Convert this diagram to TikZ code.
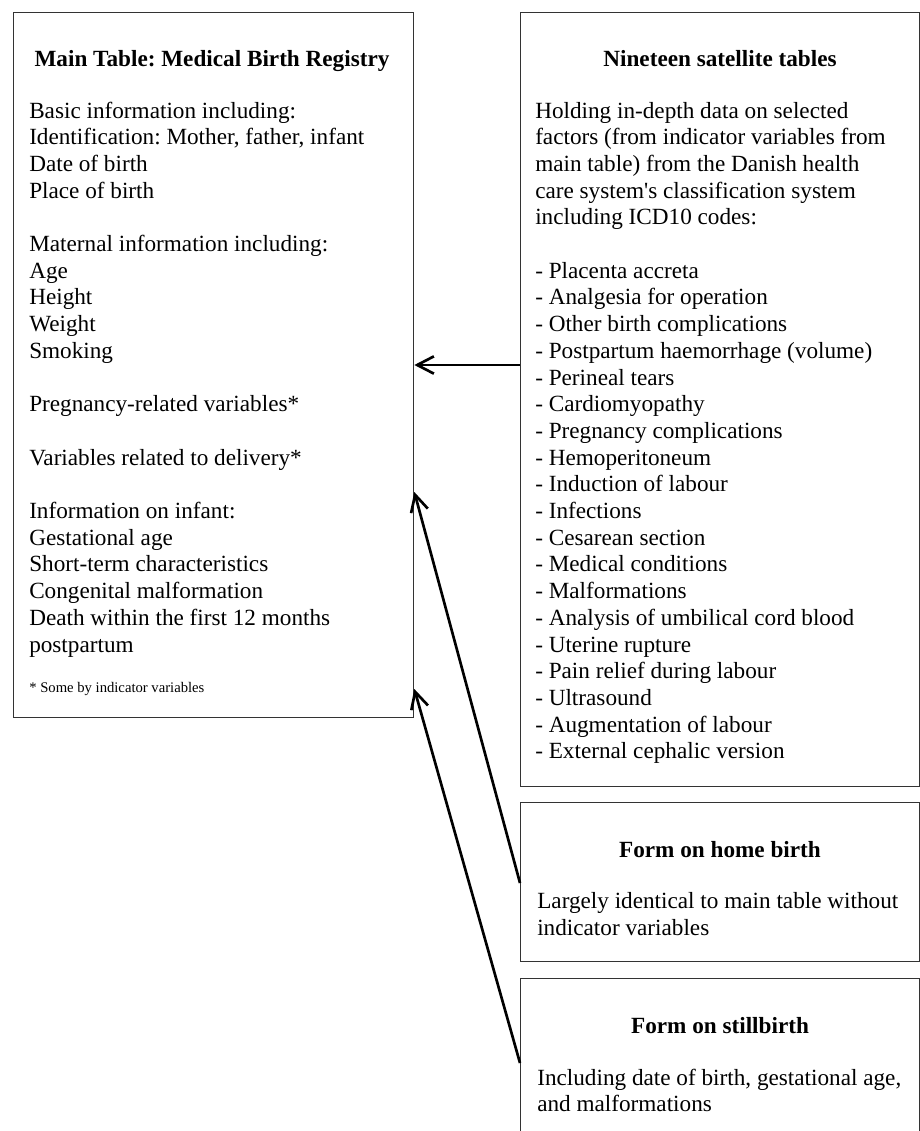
\documentclass[tikz,border=0pt]{standalone}
\usepackage{fontspec}
\setmainfont{Liberation Serif}
\usetikzlibrary{arrows.meta}
\frenchspacing
\begin{document}
\begin{tikzpicture}[x=0.75pt,y=-0.75pt,
  box/.style={draw=black!80, line width=1pt, inner sep=0pt, anchor=north west},
  txt/.style={anchor=base west, inner sep=0pt, font=\fontsize{17.4}{20}\selectfont},
  ttl/.style={anchor=base, inner sep=0pt, font=\fontsize{17.4}{20}\selectfont\bfseries},
  note/.style={anchor=base west, inner sep=0pt, font=\fontsize{11}{12}\selectfont},
  arr/.style={line width=2pt, -{Straight Barb[length=12.5pt,width=13pt]}}]
\useasboundingbox (0,0) rectangle (920,1131);
\fill[white] (0,0) rectangle (920,1131);

% boxes
\node[box, minimum width=300pt, minimum height=528.75pt] (main) at (13,12) {};
\node[box, minimum width=299.25pt, minimum height=580.5pt] (sat) at (520,12) {};
\node[box, minimum width=299.25pt, minimum height=119.25pt] (home) at (520,802) {};
\node[box, minimum width=299.25pt, minimum height=150pt] (still) at (520,978) {};

% main table
\node[ttl] (mt) at (212,67) {Main Table: Medical Birth Registry};
\foreach \i/\t in {0/{Basic information including:}, 1/{Identification: Mother, father, infant}, 2/{Date of birth}, 3/{Place of birth}, 5/{Maternal information including:}, 6/{Age}, 7/{Height}, 8/{Weight}, 9/{Smoking}, 11/{Pregnancy-related variables*}, 13/{Variables related to delivery*}, 15/{Information on infant:}, 16/{Gestational age}, 17/{Short-term characteristics}, 18/{Congenital malformation}, 19/{Death within the first 12 months}, 20/{postpartum}}
  \node[txt] (m\i) at (29,118+26.7*\i) {\t};
\node[note] (mnote) at (29,692) {* Some by indicator variables};

% satellite tables
\node[ttl] (st) at (720,67) {Nineteen satellite tables};
\foreach \i/\t in {0/{Holding in-depth data on selected}, 1/{factors (from indicator variables from}, 2/{main table) from the Danish health}, 3/{care system\textquotesingle s classification system}, 4/{including ICD10 codes:}, 6/{- Placenta accreta}, 7/{- Analgesia for operation}, 8/{- Other birth complications}, 9/{- Postpartum haemorrhage (volume)}, 10/{- Perineal tears}, 11/{- Cardiomyopathy}, 12/{- Pregnancy complications}, 13/{- Hemoperitoneum}, 14/{- Induction of labour}, 15/{- Infections}, 16/{- Cesarean section}, 17/{- Medical conditions}, 18/{- Malformations}, 19/{- Analysis of umbilical cord blood}, 20/{- Uterine rupture}, 21/{- Pain relief during labour}, 22/{- Ultrasound}, 23/{- Augmentation of labour}, 24/{- External cephalic version}}
  \node[txt] (s\i) at (535,118+26.7*\i) {\t};

% home birth
\node[ttl] (ht) at (720,857) {Form on home birth};
\node[txt] (h1) at (537,908) {Largely identical to main table without};
\node[txt] (h2) at (537,935) {indicator variables};

% stillbirth
\node[ttl] (sbt) at (720,1033) {Form on stillbirth};
\node[txt] (sb1) at (537,1085) {Including date of birth, gestational age,};
\node[txt] (sb2) at (537,1111) {and malformations};

% connectors
\draw[arr] (sat.west |- 0,365) -- (main.east |- 0,365);
\draw[arr] (home.west |- 0,883) -- (main.east |- 0,492);
\draw[arr] (still.west |- 0,1063) -- (main.east |- 0,689);
\end{tikzpicture}
\end{document}
